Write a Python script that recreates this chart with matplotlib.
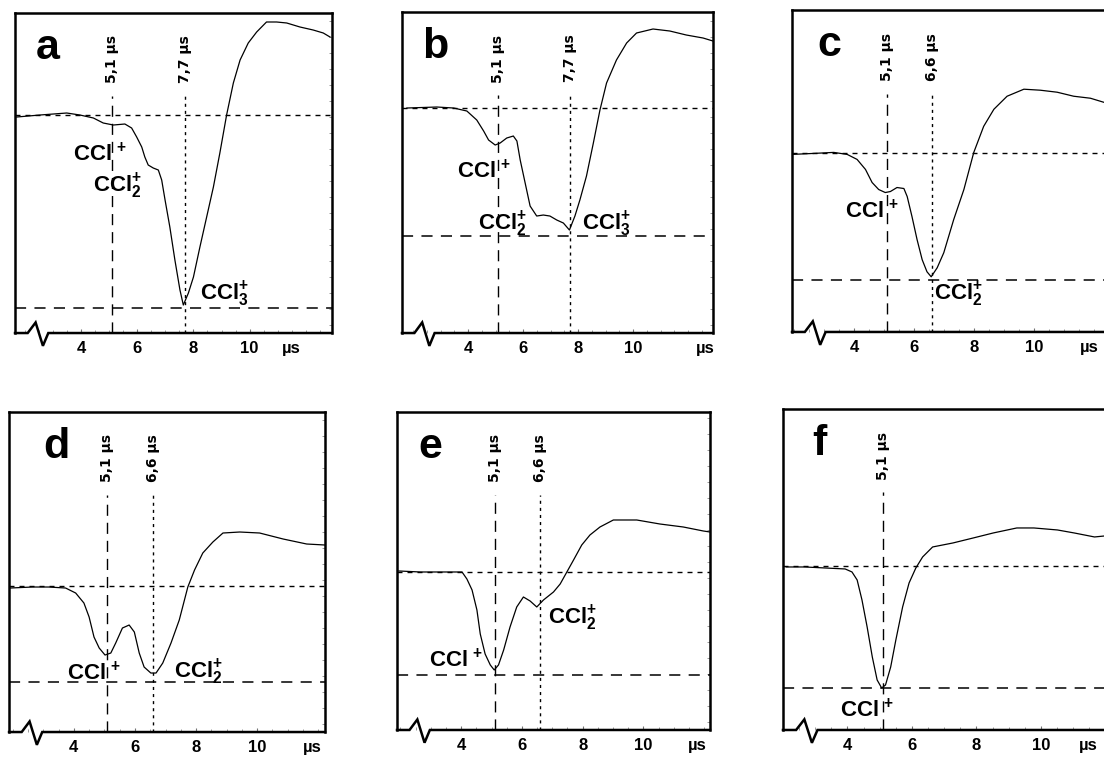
import numpy as np
import matplotlib
matplotlib.use("Agg")
import matplotlib.pyplot as plt
from matplotlib.ticker import MultipleLocator

plt.rcParams['font.family'] = ['Liberation Sans', 'DejaVu Sans']
plt.rcParams['font.weight'] = 'bold'
plt.rcParams['mathtext.fontset'] = 'custom'
plt.rcParams['mathtext.rm'] = 'Liberation Sans:bold'
plt.rcParams['mathtext.it'] = 'Liberation Sans:bold'
plt.rcParams['mathtext.bf'] = 'Liberation Sans:bold'
plt.rcParams['lines.scale_dashes'] = False

# --- time-of-flight traces: time (us) and ion signal (arb. units, baseline = 0) ---
t_a = [1.71, 2.54, 3.49, 3.96, 4.44, 4.79, 5.15, 5.56, 5.80, 5.98, 6.16, 6.27, 6.39,
       6.57, 6.75, 6.87, 6.99, 7.16, 7.34, 7.52, 7.64, 7.82, 8.00, 8.23, 8.47, 8.71,
       8.94, 9.18, 9.42, 9.66, 9.95, 10.25, 10.60, 10.96, 11.32, 11.79, 12.26, 12.62, 12.86]
s_a = [-0.02, 0.00, 0.02, 0.00, -0.03, -0.08, -0.10, -0.09, -0.13, -0.22, -0.32, -0.42, -0.50,
       -0.53, -0.55, -0.65, -0.85, -1.12, -1.45, -1.75, -1.90, -1.78, -1.62, -1.32, -1.02, -0.72,
       -0.38, 0.00, 0.32, 0.55, 0.72, 0.83, 0.93, 0.93, 0.92, 0.88, 0.85, 0.82, 0.78]

t_b = [1.77, 2.86, 3.47, 3.95, 4.31, 4.56, 4.74, 4.98, 5.16, 5.40, 5.64, 5.77, 5.89, 6.07,
       6.25, 6.49, 6.73, 6.97, 7.22, 7.46, 7.68, 7.88, 8.06, 8.30, 8.55, 8.79, 9.03, 9.39,
       9.76, 10.12, 10.72, 11.33, 11.93, 12.54, 12.90]
s_b = [0.00, 0.01, 0.00, -0.03, -0.12, -0.23, -0.32, -0.37, -0.35, -0.30, -0.28, -0.33, -0.52, -0.75,
       -0.98, -1.08, -1.07, -1.08, -1.12, -1.15, -1.22, -1.08, -0.92, -0.68, -0.35, -0.02, 0.25, 0.48,
       0.65, 0.75, 0.79, 0.77, 0.73, 0.70, 0.67]

t_c = [1.93, 2.66, 3.32, 3.77, 4.10, 4.38, 4.60, 4.82, 5.04, 5.21, 5.43, 5.66, 5.77, 5.93,
       6.10, 6.27, 6.43, 6.57, 6.77, 6.99, 7.32, 7.66, 7.99, 8.32, 8.66, 9.10, 9.66, 10.21,
       10.77, 11.32, 11.88, 12.32, 12.60]
s_c = [-0.01, 0.00, 0.01, -0.01, -0.06, -0.16, -0.29, -0.36, -0.39, -0.38, -0.34, -0.35, -0.43, -0.63,
       -0.86, -1.06, -1.18, -1.23, -1.14, -0.99, -0.66, -0.36, 0.01, 0.27, 0.44, 0.57, 0.64, 0.63,
       0.61, 0.57, 0.55, 0.51, 0.50]

t_d = [1.92, 2.64, 3.18, 3.73, 4.06, 4.33, 4.50, 4.66, 4.83, 5.02, 5.21, 5.37, 5.59, 5.81,
       5.98, 6.14, 6.30, 6.52, 6.69, 6.91, 7.18, 7.45, 7.73, 7.95, 8.22, 8.55, 8.88, 9.43,
       10.08, 10.85, 11.62, 12.22]
s_d = [-0.02, -0.01, -0.01, -0.02, -0.07, -0.17, -0.31, -0.51, -0.62, -0.69, -0.67, -0.57, -0.42, -0.39,
       -0.46, -0.67, -0.81, -0.87, -0.87, -0.77, -0.57, -0.34, -0.01, 0.16, 0.33, 0.44, 0.53, 0.54,
       0.53, 0.47, 0.42, 0.41]

t_e = [1.95, 2.66, 3.42, 4.03, 4.19, 4.36, 4.52, 4.63, 4.79, 4.96, 5.09, 5.23, 5.40, 5.61,
       5.83, 6.05, 6.27, 6.49, 6.71, 7.04, 7.26, 7.48, 7.70, 7.97, 8.24, 8.57, 9.01, 9.78,
       10.54, 11.31, 11.97, 12.19]
s_e = [0.01, 0.00, 0.00, 0.00, -0.07, -0.18, -0.38, -0.62, -0.82, -0.93, -0.98, -0.93, -0.78, -0.55,
       -0.35, -0.25, -0.29, -0.35, -0.28, -0.20, -0.12, 0.00, 0.12, 0.27, 0.37, 0.45, 0.52, 0.52,
       0.48, 0.45, 0.41, 0.40]

t_f = [2.10, 2.68, 3.30, 3.93, 4.14, 4.30, 4.45, 4.61, 4.77, 4.92, 5.06, 5.18, 5.34, 5.50,
       5.71, 5.91, 6.12, 6.33, 6.64, 7.27, 7.90, 8.52, 9.25, 9.78, 10.51, 11.03, 11.66, 11.97, 12.20]
s_f = [-0.01, -0.01, -0.02, -0.03, -0.06, -0.14, -0.34, -0.61, -0.91, -1.14, -1.22, -1.19, -1.01, -0.74,
       -0.41, -0.17, -0.02, 0.09, 0.19, 0.23, 0.28, 0.33, 0.38, 0.38, 0.36, 0.33, 0.29, 0.30, 0.30]

# arrival times of the marked peaks (us)
marks_a = [5.1, 7.7]
marks_b = [5.1, 7.7]
marks_c = [5.1, 6.6]
marks_d = [5.1, 6.6]
marks_e = [5.1, 6.6]
marks_f = [5.1]

# depth of the deepest peak (lower dashed line)
low_levels = [-1.93, -1.28, -1.26, -0.96, -1.03, -1.22]

CCL = r"$\mathrm{CCl}^{\,+}$"
CCL2 = r"$\mathrm{CCl}_{2}^{+}$"
CCL3 = r"$\mathrm{CCl}_{3}^{+}$"

# ion labels: (text, time, signal)
ions_a = [(CCL, 3.72, -0.46), (CCL2, 4.44, -0.77), (CCL3, 8.23, -1.85)]
ions_b = [(CCL, 3.59, -0.70), (CCL2, 4.37, -1.22), (CCL3, 8.12, -1.22)]
ions_c = [(CCL, 3.71, -0.64), (CCL2, 6.66, -1.46)]
ions_d = [(CCL, 3.79, -0.94), (CCL2, 7.29, -0.92)]
ions_e = [(CCL, 2.93, -0.95), (CCL2, 6.87, -0.52)]
ions_f = [(CCL, 3.77, -1.51)]

letters = ["a", "b", "c", "d", "e", "f"]
times = [t_a, t_b, t_c, t_d, t_e, t_f]
signals = [s_a, s_b, s_c, s_d, s_e, s_f]
marks = [marks_a, marks_b, marks_c, marks_d, marks_e, marks_f]
ions = [ions_a, ions_b, ions_c, ions_d, ions_e, ions_f]
xticks = [4, 6, 8, 10]

# --- layout (figure fractions) and axis ranges ---
rects = [
    [0.0136, 0.5618, 0.2871, 0.4211],
    [0.3641, 0.5618, 0.2817, 0.4224],
    [0.7174, 0.5632, 0.2899, 0.4237],
    [0.0082, 0.0368, 0.2862, 0.4211],
    [0.3596, 0.0395, 0.2835, 0.4184],
    [0.7092, 0.0395, 0.2980, 0.4224],
]
xlims = [(1.65, 12.93), (1.59, 12.90), (1.93, 12.60), (1.88, 12.22), (1.89, 12.19), (2.00, 12.20)]
ylims = [(-2.18, 1.02), (-2.25, 0.96), (-1.78, 1.43), (-1.46, 1.74), (-1.58, 1.60), (-1.64, 1.57)]
letter_x = [0.066, 0.064, 0.078, 0.108, 0.067, 0.088]
unit_x = [0.873, 0.974, 0.93, 0.96, 0.96, 0.927]

mark_styles = [(0, (8, 5)), (0, (2.2, 2.9))]

fig = plt.figure(figsize=(11.04, 7.6), dpi=100)

for k in range(6):
    ax = fig.add_axes(rects[k])
    ax.set_xlim(*xlims[k])
    ax.set_ylim(*ylims[k])

    # reference levels
    ax.axhline(0, color="black", lw=1.0, ls=(0, (3.6, 3.6)))
    ax.axhline(low_levels[k], color="black", lw=1.1, ls=(0, (8, 6)))

    # peak markers with rotated labels
    for j, m in enumerate(marks[k]):
        ax.axvline(m, ymin=0, ymax=0.74, color="black", lw=1.0, ls=mark_styles[j])
        lab = f"{m:.1f}".replace(".", ",") + " \u00b5s"
        ax.text(m, 0.855, lab, transform=ax.get_xaxis_transform(), rotation=90,
                ha="center", va="center", fontsize=10, fontweight="bold",
                family=["DejaVu Sans"])

    # trace
    ax.plot(times[k], signals[k], color="black", lw=0.9)

    for txt, x, y in ions[k]:
        ax.text(x, y, txt, fontsize=16, ha="left", va="baseline")

    ax.text(letter_x[k], 0.856, letters[k], transform=ax.transAxes, fontsize=31,
            fontweight="bold", ha="left", va="baseline")

    # frame, with axis-break squiggle at the bottom left
    for sp in ["left", "right", "top"]:
        ax.spines[sp].set_linewidth(1.8)
    ax.spines["bottom"].set_visible(False)
    bx = [0.0, 0.04, 0.065, 0.088, 0.105, 1.0]
    by = [0.0, 0.0, 0.033, -0.04, 0.0, 0.0]
    ax.plot(bx, by, transform=ax.transAxes, color="black", lw=1.8,
            clip_on=False, solid_joinstyle="miter")

    ax.set_xticks(xticks)
    ax.set_xticklabels([str(v) for v in xticks])
    ax.xaxis.set_minor_locator(MultipleLocator(0.5))
    ax.tick_params(axis="x", which="major", direction="in", length=3, width=0.8,
                   color="0.45", labelsize=12, pad=6)
    ax.tick_params(axis="x", which="minor", direction="in", length=2, width=0.7,
                   color="0.6")
    ax.yaxis.tick_right()
    ax.set_yticks(np.arange(ylims[k][0] + 0.08, ylims[k][1], 0.16))
    ax.set_yticklabels([])
    ax.tick_params(axis="y", direction="in", length=2.5, width=0.7, color="0.6")
    for lbl in ax.get_xticklabels():
        lbl.set_fontweight("bold")

    ax.annotate("\u00b5s", xy=(unit_x[k], 0), xycoords="axes fraction",
                xytext=(0, -6), textcoords="offset points", ha="center", va="top",
                fontsize=12, fontweight="bold")

fig.savefig("out.png", dpi=100)
